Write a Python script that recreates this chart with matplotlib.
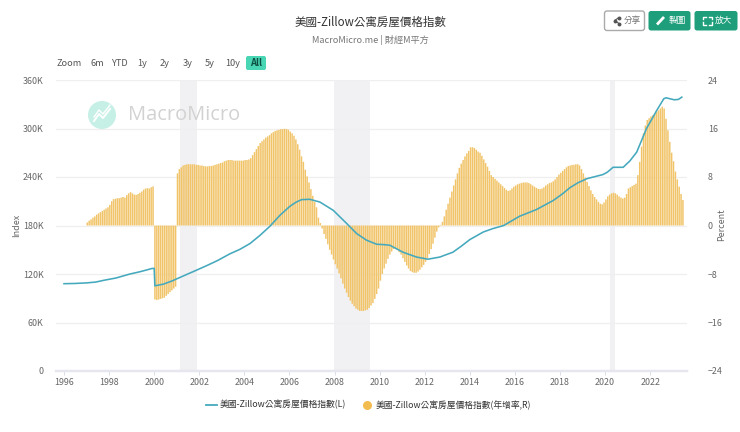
import matplotlib
matplotlib.use('Agg')
import matplotlib.pyplot as plt
from matplotlib.patches import Circle, FancyBboxPatch

plt.rcParams['font.family'] = ['Noto Sans CJK TC', 'DejaVu Sans']

# index line (year, thousands)
line_years = [1996.0, 1996.5, 1997.0, 1997.4, 1997.8, 1998.3, 1998.9, 1999.4, 1999.9, 2000.0,
              2000.03, 2000.4, 2000.8, 2001.3, 2001.8, 2002.3, 2002.8, 2003.36, 2003.8, 2004.25,
              2004.7, 2005.13, 2005.58, 2006.02, 2006.3, 2006.54, 2006.9, 2007.35, 2007.94, 2008.54,
              2008.98, 2009.42, 2009.87, 2010.2, 2010.45, 2011.03, 2011.63, 2012.14, 2012.67, 2013.25,
              2013.6, 2014.0, 2014.6, 2015.0, 2015.5, 2016.2, 2016.95, 2017.7, 2018.1, 2018.44,
              2018.8, 2019.2, 2019.9, 2020.1, 2020.35, 2020.8, 2021.1, 2021.4, 2021.83, 2022.28,
              2022.6, 2022.7, 2023.07, 2023.25, 2023.4]
line_values = [108, 108.3, 109, 110, 112.4, 115, 119.8, 123, 126.8, 127,
               105.4, 107.4, 111.5, 117.7, 123.8, 130, 136.5, 145, 150.5, 157.7,
               168, 179, 192.7, 203.8, 209, 212, 212.4, 209, 198.8, 182.4,
               170, 161.8, 156.8, 156.3, 155.6, 147, 141, 138.3, 141, 147,
               154, 162.6, 172, 176, 180, 191.4, 199.7, 211, 219, 226.8,
               233, 238, 243, 246, 252, 252, 260, 270.8, 299.7, 322,
               336.8, 338, 335.5, 336, 338.8]

# yearly change, monthly bars from 1997-01
bar_start = 1997
bar_values = [
    0.5, 0.8, 1.0, 1.3, 1.5, 1.8, 2.0, 2.2, 2.4, 2.6, 2.8, 3.0,
    3.4, 4.0, 4.35, 4.4, 4.5, 4.5, 4.6, 4.7, 4.6, 5.0, 5.3, 5.5,
    5.3, 5.1, 5.05, 5.2, 5.4, 5.6, 5.9, 6.1, 6.15, 6.1, 6.3, 6.45,
    -12.2, -12.3, -12.2, -12.1, -12.0, -11.9, -11.6, -11.3, -11.0, -10.7, -10.4, -10.1,
    8.6, 9.3, 9.6, 9.9, 10.0, 10.1, 10.1, 10.1, 10.1, 10.1, 10.0, 10.0,
    9.9, 9.9, 9.8, 9.75, 9.75, 9.8, 9.8, 9.9, 10.0, 10.1, 10.2, 10.3,
    10.4, 10.6, 10.7, 10.8, 10.8, 10.8, 10.7, 10.7, 10.7, 10.7, 10.7, 10.7,
    10.8, 10.8, 10.9, 11.1, 11.6, 12.1, 12.6, 13.1, 13.6, 13.9, 14.2, 14.5,
    14.7, 14.9, 15.2, 15.4, 15.6, 15.7, 15.8, 15.9, 15.9, 15.95, 15.9, 15.8,
    15.5, 15.2, 14.8, 14.2, 13.4, 12.5, 11.4, 10.5, 9.2, 8.1, 7.1, 6.0,
    4.9, 3.9, 3.0, 1.3, 0.4, -0.5, -1.4, -2.2, -3.1, -4.0, -4.8, -5.6,
    -6.4, -7.1, -7.9, -8.7, -9.6, -10.4, -11.1, -11.8, -12.4, -12.9, -13.3, -13.7,
    -13.9, -14.1, -14.1, -14.1, -14.0, -13.9, -13.6, -13.2, -12.8, -12.1, -11.3, -10.4,
    -9.1, -8.0, -7.1, -6.3, -5.5, -4.8, -4.3, -3.9, -3.8, -4.0, -4.4, -4.8,
    -5.4, -6.0, -6.6, -7.1, -7.5, -7.7, -7.8, -7.8, -7.6, -7.3, -6.9, -6.5,
    -6.0, -5.4, -4.7, -3.9, -3.0, -2.0, -1.0, -0.3, 0.1, 0.6, 1.5, 2.6,
    3.6, 4.6, 5.6, 6.6, 7.6, 8.6, 9.5, 10.2, 10.8, 11.4, 11.9, 12.3,
    12.9, 12.9, 12.8, 12.5, 12.2, 12.0, 11.5, 10.9, 10.3, 9.7, 9.0, 8.3,
    8.0, 7.7, 7.4, 7.1, 6.8, 6.5, 6.2, 5.9, 5.7, 5.8, 6.1, 6.4,
    6.6, 6.8, 6.9, 7.0, 7.1, 7.1, 7.1, 7.0, 6.8, 6.6, 6.4, 6.2,
    6.05, 6.0, 6.1, 6.3, 6.6, 6.8, 7.0, 7.1, 7.3, 7.6, 8.0, 8.4,
    8.7, 9.0, 9.3, 9.6, 9.8, 9.9, 10.0, 10.0, 10.1, 10.1, 9.9, 9.3,
    8.6, 7.9, 7.2, 6.5, 5.8, 5.2, 4.7, 4.3, 3.9, 3.6, 3.5, 3.8,
    4.3, 4.8, 5.1, 5.3, 5.4, 5.3, 5.1, 4.8, 4.6, 4.45, 4.6, 5.2,
    6.1, 6.3, 6.5, 6.7, 6.9, 8.3, 10.5, 13.0, 15.2, 16.5, 17.4, 17.7,
    18.0, 18.2, 18.4, 18.7, 19.0, 19.3, 19.6, 19.3, 17.6, 15.7, 13.8, 12.0,
    10.6, 8.9, 7.6, 6.4, 5.2, 4.2,
]
bar_years = [bar_start + i / 12 for i in range(len(bar_values))]

recessions = [(2001.14, 2001.9), (2007.97, 2009.57), (2020.2, 2020.44)]
left_ticks = [0, 60, 120, 180, 240, 300, 360]
left_labels = ['0', '60K', '120K', '180K', '240K', '300K', '360K']
right_ticks = [-24, -16, -8, 0, 8, 16, 24]
year_ticks = list(range(1996, 2023, 2))
range_buttons = [('Zoom', 69), ('6m', 97), ('YTD', 119), ('1y', 142), ('2y', 165),
                 ('3y', 188), ('5y', 210), ('10y', 233)]

title = '美國-Zillow公寓房屋價格指數'
subtitle = 'MacroMicro.me | 財經M平方'
line_name = '美國-Zillow公寓房屋價格指數(L)'
bar_name = '美國-Zillow公寓房屋價格指數(年增率,R)'

LINE_COLOR = '#45A9BD'
BAR_COLOR = '#F1C469'
GRID = '#EFEFEF'
TEXT = '#666666'
GREEN = '#1F9E7B'

W, H = 740, 432
fig = plt.figure(figsize=(W / 100, H / 100), dpi=100, facecolor='white')

# page furniture in pixel coordinates, over the chart
bg = fig.add_axes([0, 0, 1, 1], zorder=5)
bg.set_xlim(0, W)
bg.set_ylim(H, 0)
bg.axis('off')

bg.text(370, 22, title, ha='center', va='center', fontsize=8.3, color='#333333')
bg.text(370, 40, subtitle, ha='center', va='center', fontsize=6.6, color='#777777')

for label, x in range_buttons:
    bg.text(x, 63, label, ha='center', va='center', fontsize=6.6, color='#555555')
bg.add_patch(FancyBboxPatch((246, 56), 20, 14, boxstyle='round,pad=0,rounding_size=2',
                            fc='#48D6B4', ec='none'))
bg.text(256, 63, 'All', ha='center', va='center', fontsize=6.8, color='#0E4F42', fontweight='bold')

# top right buttons
bg.add_patch(FancyBboxPatch((604.5, 11), 40, 19.5, boxstyle='round,pad=0,rounding_size=2.5',
                            fc='white', ec='#AAAAAA', lw=1))
bg.plot([619, 614.5, 619], [17.5, 20.5, 23.5], color='#555555', lw=0.8)
bg.plot([619, 614.5, 619], [17.5, 20.5, 23.5], ls='none', marker='o', ms=1.8, color='#555555')
bg.text(632, 20.5, '分享', ha='center', va='center', fontsize=6.2, color='#777777')
bg.add_patch(FancyBboxPatch((648.5, 11), 42, 19.5, boxstyle='round,pad=0,rounding_size=2.5',
                            fc=GREEN, ec='none'))
bg.plot([657, 664], [24.5, 17], color='white', lw=2.0, solid_capstyle='butt')
bg.text(677, 20.5, '製圖', ha='center', va='center', fontsize=6.2, color='white')
bg.add_patch(FancyBboxPatch((694.5, 11), 43, 19.5, boxstyle='round,pad=0,rounding_size=2.5',
                            fc=GREEN, ec='none'))
for xs, ys in [([703, 703, 706], [19, 16.5, 16.5]), ([709, 712, 712], [16.5, 16.5, 19]),
               ([703, 703, 706], [22, 24.5, 24.5]), ([709, 712, 712], [24.5, 24.5, 22])]:
    bg.plot(xs, ys, color='white', lw=1)
bg.text(723, 20.5, '放大', ha='center', va='center', fontsize=6.2, color='white')

# watermark
bg.add_patch(Circle((102, 115), 14, fc='#C6F0E6', ec='none'))
bg.plot([94, 99, 103, 110], [121, 114, 118, 109], color='white', lw=1.4)
bg.plot([94, 99, 103, 110], [117, 110, 114, 105], color='white', lw=1.0)
bg.text(128, 115, 'MacroMicro', ha='left', va='center', fontsize=14.4, color='#D2D2D2',
        family='Open Sans')

# chart
ax = fig.add_axes([56 / W, 1 - 371 / H, 631 / W, 291 / H], zorder=2)
ax2 = ax.twinx()
ax2.set_zorder(1)
ax.patch.set_visible(False)

for start, end in recessions:
    ax2.axvspan(start, end, color='#F1F1F3', lw=0, zorder=0)

bars = ax2.bar(bar_years, bar_values, width=0.066, color=BAR_COLOR, lw=0, align='edge', zorder=2)
for b in bars:
    b.set_snap(False)
ax.plot(line_years, line_values, color=LINE_COLOR, lw=1.15, zorder=5)

ax.set_xlim(1995.645, 2023.63)
ax.set_ylim(0, 360)
ax2.set_ylim(-24, 24)
ax.set_yticks(left_ticks)
ax.set_yticklabels(left_labels)
ax2.set_yticks(right_ticks)
ax.set_xticks(year_ticks)
ax.set_xticklabels([str(y) for y in year_ticks])

# grid sits on the lower axes so the bars cover it
ax2.grid(axis='y', color=GRID, lw=0.9, zorder=1)
ax2.set_axisbelow(True)
ax.tick_params(axis='y', length=0, pad=9, labelsize=6.4, labelcolor=TEXT)
ax.tick_params(axis='x', length=3, width=0.7, color='#DDDDE6', pad=2, labelsize=6.4, labelcolor=TEXT)
ax2.tick_params(axis='y', length=0, pad=15, labelsize=6.4, labelcolor=TEXT)
for a in (ax, ax2):
    for side in ('top', 'left', 'right'):
        a.spines[side].set_visible(False)
    a.spines['bottom'].set_color('#E6E6EE')
    a.spines['bottom'].set_linewidth(1.6)

bg.text(17, 225, 'Index', rotation=90, ha='center', va='center', fontsize=6.4, color=TEXT)
bg.text(722, 225, 'Percent', rotation=90, ha='center', va='center', fontsize=6.4, color=TEXT)

# legend, placed by hand like the original
bg.plot([206, 217], [405, 405], color=LINE_COLOR, lw=1.3)
bg.text(220, 405, line_name, ha='left', va='center', fontsize=6.35, color='#333333')
bg.plot([367], [405], marker='o', ms=6.5, color='#F2BC4F', mec='none')
bg.text(376, 405, bar_name, ha='left', va='center', fontsize=6.3, color='#333333')

fig.savefig('out.png', dpi=100)
